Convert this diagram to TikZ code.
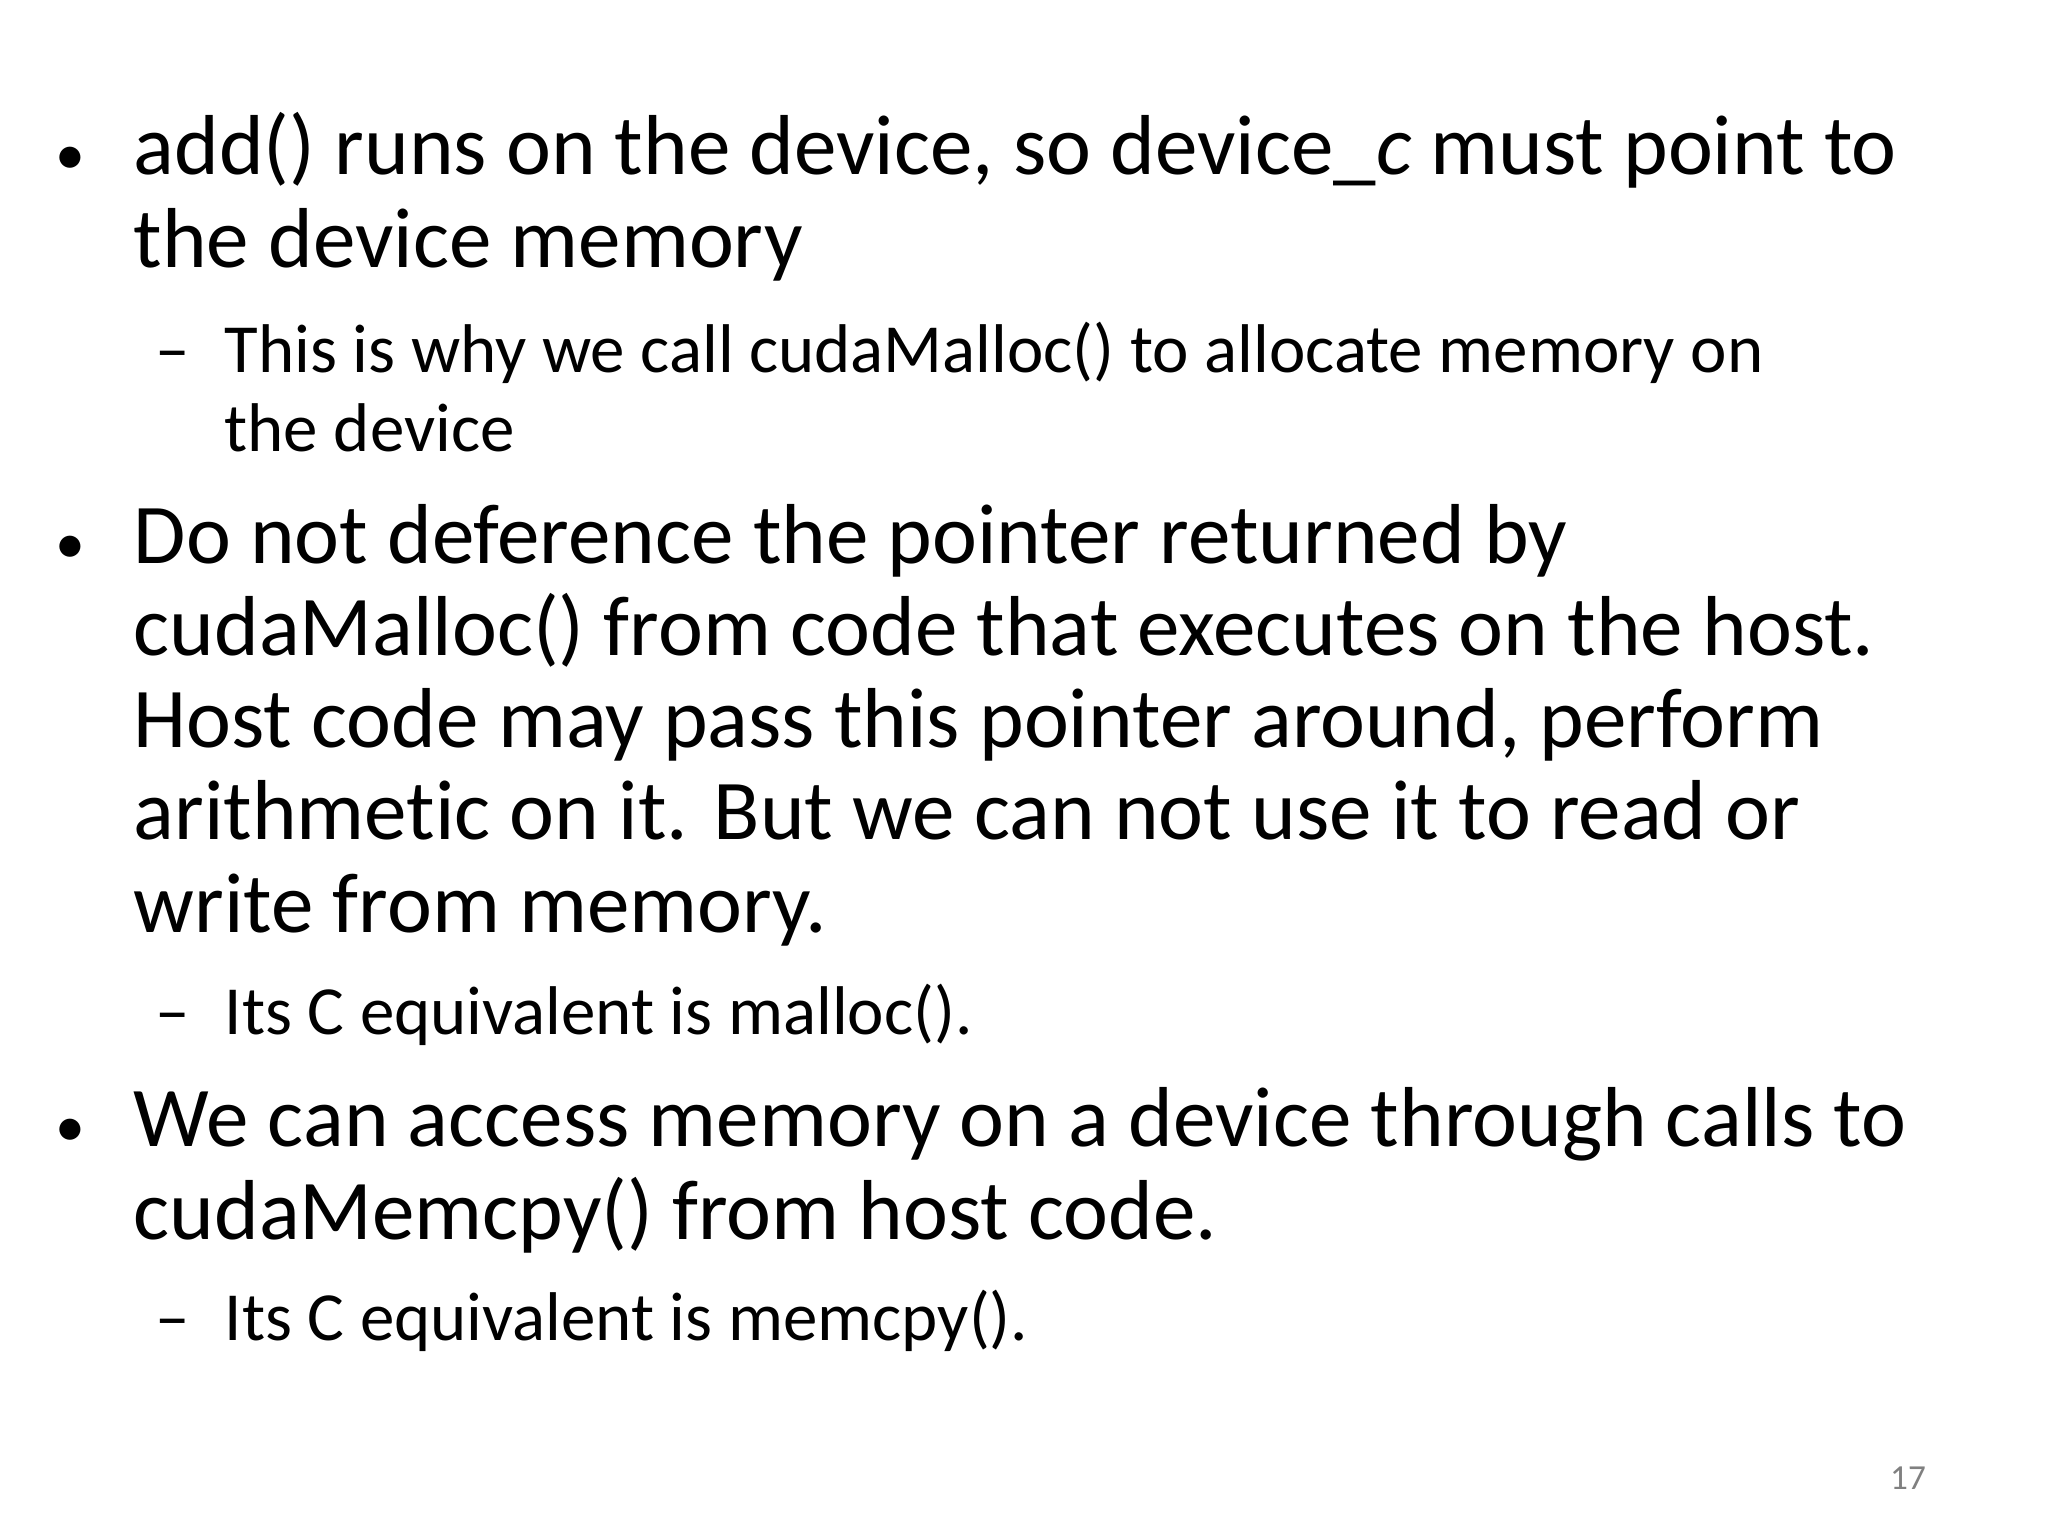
\documentclass[tikz,border=0pt]{standalone}
\usepackage{fontspec}
\setmainfont{Carlito}[Ligatures={NoCommon}]
\begin{document}
\begin{tikzpicture}[x=0.01cm,y=-0.01cm]
\tikzset{big/.style={anchor=base west,inner sep=0pt,font=\fontsize{24.2pt}{28pt}\selectfont},
small/.style={anchor=base west,inner sep=0pt,font=\fontsize{19.6pt}{23pt}\selectfont},
bul/.style={anchor=base west,inner sep=0pt,font=\fontsize{17pt}{20pt}\selectfont}}
\useasboundingbox (0,0) rectangle (2048,1536);
\fill[white] (0,0) rectangle (2048,1536);
\node[bul] (b1) at (55,174) {•};
\node[big] (l1) at (133,174) {add() runs on the device, so device\_\textit{c} must point to};
\node[big] (l2) at (133,267) {the device memory};
\node[small] (d1) at (155,372) {–};
\node[small] (s1) at (224,372) {This is why we call cudaMalloc() to allocate memory on};
\node[small] (s2) at (224,451) {the device};
\node[bul] (b2) at (55,563) {•};
\node[big] (m1) at (133,563) {Do not deference the pointer returned by};
\node[big] (m2) at (133,655) {cudaMalloc() from code that executes on the host.};
\node[big] (m3) at (133,747) {Host code may pass this pointer around, perform};
\node[big] (m4) at (133,839) {arithmetic on it. But we can not use it to read or};
\node[big] (m5) at (133,932) {write from memory.};
\node[small] (d2) at (155,1034) {–};
\node[small] (s3) at (224,1034) {Its C equivalent is malloc().};
\node[bul] (b3) at (55,1146) {•};
\node[big] (n1) at (133,1146) {We can access memory on a device through calls to};
\node[big] (n2) at (133,1239) {cudaMemcpy() from host code.};
\node[small] (d3) at (155,1340) {–};
\node[small] (s4) at (224,1340) {Its C equivalent is memcpy().};
\node[anchor=base,inner sep=0pt,text=gray,font=\fontsize{10pt}{12pt}\selectfont] (pg) at (1908,1489) {17};
\end{tikzpicture}
\end{document}
